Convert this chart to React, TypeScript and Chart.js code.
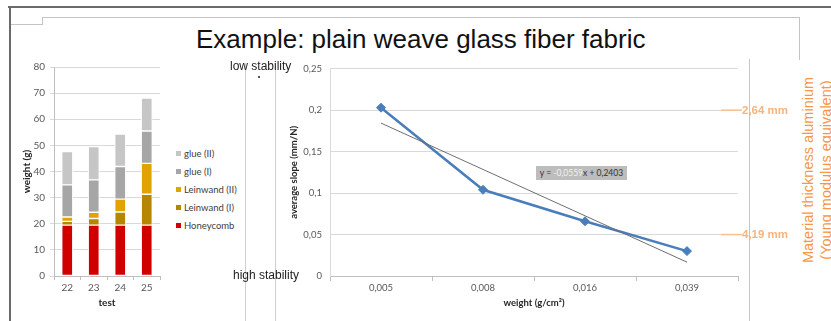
import React, { useEffect, useRef } from "react";
import { Chart, registerables } from "chart.js";

Chart.register(...registerables);

// ---- weight build-up per test (g), stacked bottom to top ----
const TESTS = ["22", "23", "24", "25"];
const HONEYCOMB = [19.5, 19.5, 19.5, 19.5];
const LEINWAND_I = [1.4, 2.5, 5.0, 11.8];
const LEINWAND_II = [1.7, 2.4, 4.9, 11.8];
const GLUE_I = [12.3, 12.4, 12.5, 12.4];
const GLUE_II = [12.7, 12.7, 12.4, 12.6];
const WEIGHT_MAX = 80;
const WEIGHT_STEP = 10;

// ---- stiffness vs. fabric areal weight ----
const AREAL_WEIGHTS = ["0,005", "0,008", "0,016", "0,039"];
const AVG_SLOPE = [0.203, 0.104, 0.066, 0.03];
const TREND_SLOPE = -0.0559;
const TREND_INTERCEPT = 0.2403;
const SLOPE_MAX = 0.25;
const SLOPE_STEP = 0.05;

// equivalent aluminium sheet thickness at given slope levels
const THICKNESS_LEVELS = [0.2, 0.05];
const THICKNESS_LABELS = ["2,64 mm", "4,19 mm"];

const LAYERS = [
  { label: "Honeycomb", data: HONEYCOMB, color: "#d00000" },
  { label: "Leinwand (I)", data: LEINWAND_I, color: "#b58600" },
  { label: "Leinwand (II)", data: LEINWAND_II, color: "#e0a300" },
  { label: "glue (I)", data: GLUE_I, color: "#a6a6a6" },
  { label: "glue (II)", data: GLUE_II, color: "#c6c6c6" },
];

const OFFICE = 'Lato, "Open Sans", sans-serif';
const ARIAL = '"Liberation Sans", Arial, sans-serif';
const TICK_COLOR = "#595959";
const GRID = "#d9d9d9";
const AXIS = "#bfbfbf";

const comma = (v: number, digits: number) =>
  parseFloat(v.toFixed(digits)).toString().replace(".", ",");

const thicknessMarks = {
  id: "thicknessMarks",
  afterDraw(chart: any) {
    const { ctx, chartArea, scales } = chart;
    ctx.save();
    THICKNESS_LEVELS.forEach((level, i) => {
      const y = scales.y.getPixelForValue(level);
      ctx.strokeStyle = "#f9bf8c";
      ctx.lineWidth = 1.5;
      ctx.beginPath();
      ctx.moveTo(chartArea.right - 17, y);
      ctx.lineTo(chartArea.right + 4, y);
      ctx.stroke();
      ctx.fillStyle = "#f7b47c";
      ctx.font = `bold 11.5px ${ARIAL}`;
      ctx.textAlign = "left";
      ctx.textBaseline = "middle";
      ctx.fillText(THICKNESS_LABELS[i], chartArea.right + 4, y + 0.5);
    });
    ctx.restore();
  },
};

function WeightChart() {
  const ref = useRef<HTMLCanvasElement>(null);
  useEffect(() => {
    const chart = new Chart(ref.current!, {
      type: "bar",
      data: {
        labels: TESTS,
        datasets: LAYERS.map((l) => ({
          label: l.label,
          data: l.data,
          backgroundColor: l.color,
          borderColor: "rgba(255,255,255,0.85)",
          borderWidth: 1,
          borderSkipped: false,
          barThickness: 11,
        })),
      },
      options: {
        responsive: false,
        animation: false,
        layout: { padding: { top: 12, right: 10, left: 0, bottom: 0 } },
        plugins: { legend: { display: false }, tooltip: { enabled: false } },
        scales: {
          x: {
            stacked: true,
            offset: true,
            grid: { offset: true, drawOnChartArea: false, tickLength: 4, color: AXIS },
            border: { color: AXIS },
            ticks: { color: TICK_COLOR, font: { family: OFFICE, size: 10 }, padding: 2 },
            title: {
              display: true,
              text: "test",
              color: "#262626",
              font: { family: OFFICE, size: 10, weight: "bold" },
              padding: { top: 0, bottom: 12 },
            },
            afterFit: (s: any) => {
              s.height = 45;
            },
          },
          y: {
            stacked: true,
            min: 0,
            max: WEIGHT_MAX,
            ticks: { stepSize: WEIGHT_STEP, color: TICK_COLOR, font: { family: OFFICE, size: 10 }, padding: 5 },
            grid: { color: GRID, tickLength: 4 },
            border: { color: AXIS },
            title: {
              display: true,
              text: "weight (g)",
              color: "#262626",
              font: { family: OFFICE, size: 10, weight: "bold" },
              padding: { top: 11, bottom: 0 },
            },
            afterFit: (s: any) => {
              s.width = 44;
            },
          },
        },
      },
    });
    return () => chart.destroy();
  }, []);
  return (
    <canvas
      ref={ref}
      width={160}
      height={266}
      style={{ position: "absolute", left: 10, top: 55, width: 160, height: 266 }}
    />
  );
}

function SlopeChart() {
  const ref = useRef<HTMLCanvasElement>(null);
  useEffect(() => {
    const trend = AREAL_WEIGHTS.map((_, i) => TREND_SLOPE * (i + 1) + TREND_INTERCEPT);
    const chart = new Chart(ref.current!, {
      type: "line",
      data: {
        labels: AREAL_WEIGHTS,
        datasets: [
          {
            label: "linear trend",
            data: trend,
            borderColor: "#6e6e6e",
            borderWidth: 1,
            pointRadius: 0,
            fill: false,
            order: 0,
          },
          {
            label: "average slope",
            data: AVG_SLOPE,
            borderColor: "#4a7ebb",
            backgroundColor: "#4a7ebb",
            borderWidth: 2.5,
            pointStyle: "rectRot",
            pointRadius: 4.5,
            pointBorderWidth: 1,
            fill: false,
            tension: 0,
            order: 1,
          },
        ],
      },
      options: {
        responsive: false,
        animation: false,
        layout: { padding: { top: 11, right: 57, left: 0, bottom: 0 } },
        plugins: { legend: { display: false }, tooltip: { enabled: false } },
        scales: {
          x: {
            offset: true,
            grid: { offset: true, drawOnChartArea: false, tickLength: 5, color: AXIS },
            border: { color: AXIS },
            ticks: { color: TICK_COLOR, font: { family: OFFICE, size: 9.5 }, padding: 1 },
            title: {
              display: true,
              text: "weight (g/cm²)",
              color: "#262626",
              font: { family: OFFICE, size: 9.5, weight: "bold" },
              padding: { top: 0, bottom: 12 },
            },
            afterFit: (s: any) => {
              s.height = 45;
            },
          },
          y: {
            min: 0,
            max: SLOPE_MAX,
            ticks: {
              stepSize: SLOPE_STEP,
              color: TICK_COLOR,
              font: { family: OFFICE, size: 9.5 },
              padding: 8,
              callback: (v: any) => comma(Number(v), 3),
            },
            grid: { color: GRID, drawTicks: false },
            border: { color: GRID },
            title: {
              display: true,
              text: "average slope (mm/N)",
              color: "#262626",
              font: { family: OFFICE, size: 9.5, weight: "bold" },
              padding: { top: 8, bottom: 0 },
            },
            afterFit: (s: any) => {
              s.width = 50;
            },
          },
        },
      },
      plugins: [thicknessMarks],
    });
    return () => chart.destroy();
  }, []);
  return (
    <canvas
      ref={ref}
      width={515}
      height={266}
      style={{ position: "absolute", left: 280, top: 55, width: 515, height: 266 }}
    />
  );
}

const line = (left: number, top: number, width: number, height: number, color: string) => (
  <div style={{ position: "absolute", left, top, width, height, background: color }} />
);

export default function App() {
  const legendItems = [...LAYERS].reverse();
  return (
    <div
      style={{
        position: "absolute",
        left: 0,
        top: 0,
        width: 831,
        height: 321,
        overflow: "hidden",
        background: "#ffffff",
        fontFamily: ARIAL,
      }}
    >
      {/* slide frame */}
      {line(8, 6, 823, 2, "#6a6a6a")}
      {line(9, 6, 2, 315, "#6a6a6a")}
      {line(42, 17, 757, 1, "#c4c4c4")}
      {line(42, 17, 1, 8, "#c4c4c4")}
      {line(11, 24, 32, 1, "#c4c4c4")}
      {line(799, 17, 1, 43, "#c4c4c4")}
      {line(749, 59, 1, 262, "#c4c4c4")}
      {line(245, 63, 1, 258, "#cfcfcf")}
      {line(275, 63, 1, 258, "#cfcfcf")}

      <div
        style={{
          position: "absolute",
          left: 196,
          top: 26,
          fontSize: 26,
          lineHeight: "26px",
          color: "#111",
          whiteSpace: "nowrap",
        }}
      >
        Example: plain weave glass fiber fabric
      </div>

      <WeightChart />
      <SlopeChart />

      {/* stacked-bar legend */}
      {legendItems.map((item, i) => (
        <div
          key={item.label}
          style={{
            position: "absolute",
            left: 176,
            top: 147 + i * 18,
            height: 12,
            display: "flex",
            alignItems: "center",
            fontFamily: OFFICE,
            fontSize: 9.5,
            color: "#404040",
            whiteSpace: "nowrap",
          }}
        >
          <span style={{ width: 5, height: 5, background: item.color, marginRight: 3 }} />
          {item.label}
        </div>
      ))}

      <div style={{ position: "absolute", left: 230, top: 60, fontSize: 12, lineHeight: "12px", color: "#222", whiteSpace: "nowrap" }}>
        low stability
      </div>
      <div style={{ position: "absolute", left: 258, top: 76, width: 2, height: 2, background: "#555" }} />
      <div style={{ position: "absolute", left: 233, top: 269, fontSize: 12, lineHeight: "12px", color: "#222", whiteSpace: "nowrap" }}>
        high stability
      </div>

      {/* regression equation */}
      <div
        style={{
          position: "absolute",
          left: 536,
          top: 166,
          width: 91,
          height: 14,
          background: "#bdbdbd",
          fontFamily: OFFICE,
          fontSize: 8.5,
          lineHeight: "14px",
          color: "#333",
          textAlign: "center",
          whiteSpace: "nowrap",
        }}
      >
        y = <span style={{ color: "#f2f2f2" }}>{comma(TREND_SLOPE, 4)}</span>x + {comma(TREND_INTERCEPT, 4)}
      </div>

      {/* right-hand axis caption */}
      <div
        style={{
          position: "absolute",
          left: 817,
          top: 170,
          transform: "translate(-50%, -50%) rotate(-90deg)",
          fontSize: 14.5,
          lineHeight: "18px",
          color: "#f79646",
          textAlign: "center",
          whiteSpace: "nowrap",
        }}
      >
        Material thickness aluminium
        <br />
        (Young modulus equivalent)
      </div>
    </div>
  );
}
